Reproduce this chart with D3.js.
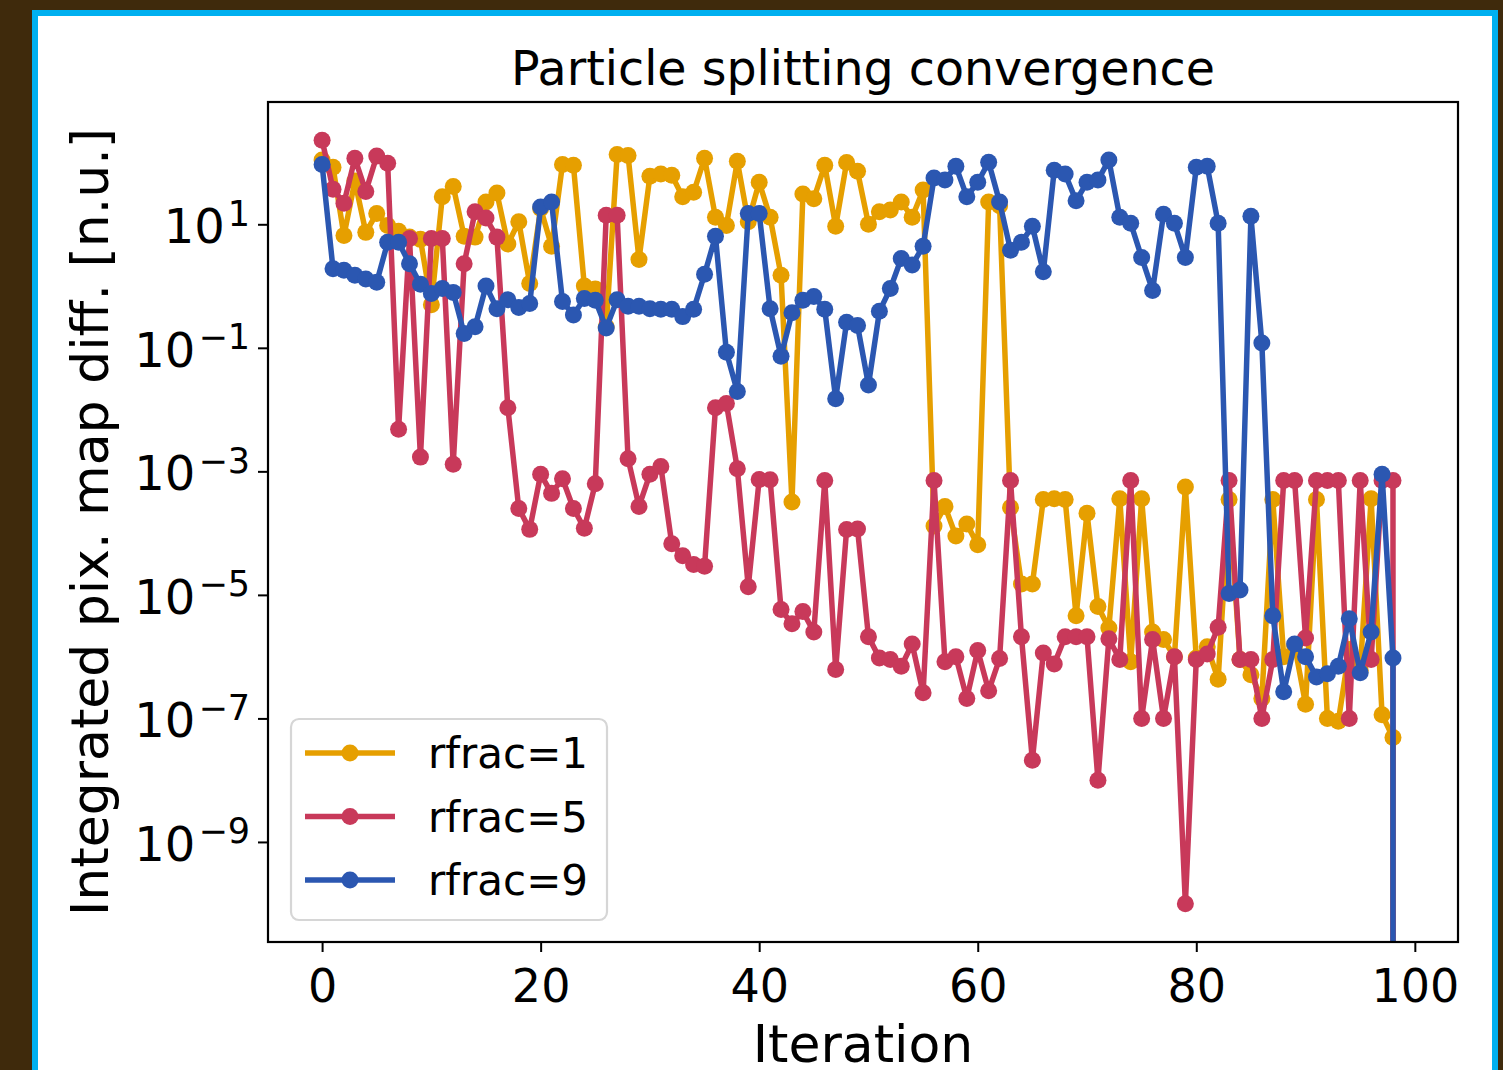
<!DOCTYPE html>
<html lang="en">
<head>
    <meta charset="UTF-8">
    <title>Particle splitting convergence</title>
    <script src="https://d3js.org/d3.v7.min.js"></script>
    <style>
        body {
            margin: 0;
            background: #3f2a0c;
        }
        text {
            font-family: 'DejaVu Sans', sans-serif;
        }
        .axis text {
            font-size: 46px;
            fill: #000;
        }
        .axis line {
            stroke: #000;
            stroke-width: 2px;
        }
    </style>
</head>
<body>
    <svg id="chart" width="1503" height="1070"></svg>

    <script>
        // Data (iterations 0..99, last value 0 -> clipped off the log axis)
        const iterations = d3.range(0, 100);

        const rfrac1 = [
            110, 84, 6.6, 50, 7.4, 15, 9.6, 7.7, 6.2, 5.7,
            0.5, 28, 41, 6.4, 6.2, 23, 32, 4.8, 11, 1.1,
            18, 4.4, 93, 90, 1.0, 0.9, 0.22, 135, 130, 2.7,
            60, 65, 62, 28, 33, 117, 13, 9.6, 105, 11,
            48, 13, 1.5, 3.2e-4, 31, 26, 90, 9.3, 100, 72,
            10, 16, 17, 23, 13, 36, 1.3e-4, 2.7e-4, 9e-5, 1.4e-4,
            6.5e-5, 23, 20, 2.6e-4, 1.5e-5, 1.5e-5, 3.5e-4, 3.6e-4, 3.5e-4, 4.6e-6,
            2.1e-4, 6.5e-6, 2.9e-6, 3.6e-4, 8.3e-7, 3.6e-4, 2.5e-6, 1.9e-6, 1e-6, 5.6e-4,
            9.5e-7, 1.45e-6, 4.3e-7, 3.5e-4, 9e-7, 5.1e-7, 2.1e-7, 3.5e-4, 1e-6, 1.5e-6,
            1.7e-7, 3.5e-4, 1e-7, 9e-8, 1.3e-6, 6e-7, 3.6e-4, 1.15e-7, 4.9e-8, 0
        ];

        const rfrac5 = [
            230, 37, 22, 117, 34, 127, 97, 4.8e-3, 5.9, 1.7e-3,
            5.9, 5.9, 1.3e-3, 2.3, 16, 12.6, 6.2, 1.07e-2, 2.5e-4, 1.15e-4,
            9e-4, 4.4e-4, 7.6e-4, 2.5e-4, 1.2e-4, 6.3e-4, 14, 14, 1.6e-3, 2.7e-4,
            9e-4, 1.2e-3, 6.7e-5, 4.3e-5, 3.1e-5, 2.9e-5, 1.07e-2, 1.25e-2, 1.1e-3, 1.35e-5,
            7.4e-4, 7.3e-4, 5.8e-6, 3.4e-6, 5.4e-6, 2.5e-6, 7.1e-4, 6.2e-7, 1.14e-4, 1.17e-4,
            2.1e-6, 9.5e-7, 9e-7, 7e-7, 1.6e-6, 2.6e-7, 7.1e-4, 8.3e-7, 1e-6, 2.1e-7,
            1.26e-6, 2.8e-7, 9.3e-7, 7.1e-4, 2.1e-6, 2.1e-8, 1.15e-6, 7.6e-7, 2.1e-6, 2.1e-6,
            2.1e-6, 1e-8, 1.95e-6, 9e-7, 7.1e-4, 1e-7, 1.9e-6, 1e-7, 1e-6, 1e-10,
            9e-7, 1.1e-6, 3e-6, 7.1e-4, 9e-7, 9e-7, 1e-7, 9e-7, 7.1e-4, 7.1e-4,
            2e-6, 7.1e-4, 7.1e-4, 7.1e-4, 1e-7, 7.1e-4, 9e-7, 7.1e-4, 7.1e-4, 0
        ];

        const rfrac9 = [
            93, 1.9, 1.8, 1.5, 1.3, 1.15, 5.1, 5.1, 2.3, 1.07,
            0.76, 0.91, 0.79, 0.17, 0.22, 1.0, 0.43, 0.6, 0.45, 0.52,
            19, 23, 0.56, 0.34, 0.63, 0.59, 0.21, 0.6, 0.47, 0.47,
            0.43, 0.42, 0.42, 0.32, 0.42, 1.55, 6.4, 0.085, 0.0196, 15,
            15, 0.43, 0.073, 0.37, 0.59, 0.68, 0.42, 0.015, 0.26, 0.23,
            0.025, 0.39, 0.91, 2.8, 2.2, 4.4, 56, 52, 87, 28,
            48, 101, 23, 3.8, 5.1, 9.3, 1.7, 75, 65, 24,
            48, 52, 110, 13, 10.4, 2.9, 0.85, 14.5, 10.4, 2.9,
            84, 87, 10.4, 1.05e-5, 1.2e-5, 13.5, 0.12, 4.6e-6, 2.7e-7, 1.6e-6,
            1e-6, 4.7e-7, 5.3e-7, 7e-7, 4.1e-6, 5.5e-7, 2.5e-6, 9e-4, 9.5e-7, 0
        ];

        const seriesNames = ["rfrac=1", "rfrac=5", "rfrac=9"];
        const seriesColors = ["#e69f00", "#c8395a", "#2b57b1"];
        const xTicks = [0, 20, 40, 60, 80, 100];
        const yTickExps = [1, -1, -3, -5, -7, -9];

        const series = [rfrac1, rfrac5, rfrac9].map((vals, k) => ({
            name: seriesNames[k],
            color: seriesColors[k],
            values: vals.map((v, i) => ({ x: iterations[i], y: v }))
        }));

        const svg = d3.select("#chart");

        // page frame: brown backdrop, blue border, white canvas
        svg.append("rect").attr("x", 0).attr("y", 0).attr("width", 1503).attr("height", 1070).attr("fill", "#3f2a0c");
        svg.append("rect").attr("x", 32).attr("y", 10).attr("width", 1466).attr("height", 1070).attr("fill", "#00b0f0");
        svg.append("rect").attr("x", 38).attr("y", 16).attr("width", 1454).attr("height", 1070).attr("fill", "#ffffff");

        const plot = { left: 268, right: 1458, top: 102, bottom: 942 };

        const x = d3.scaleLinear()
            .domain([-4.95, 103.95])
            .range([plot.left, plot.right]);

        const y = d3.scaleLog()
            .domain([Math.pow(10, -10.62), Math.pow(10, 2.98)])
            .range([plot.bottom, plot.top]);

        // zero values sit far below the axis (clipped), like matplotlib's log clipping
        const yPos = v => v > 0 ? y(v) : plot.bottom + 1e5;

        svg.append("clipPath").attr("id", "clip")
            .append("rect")
            .attr("x", plot.left).attr("y", plot.top)
            .attr("width", plot.right - plot.left).attr("height", plot.bottom - plot.top);

        // x axis
        const xAxis = svg.append("g")
            .attr("class", "axis")
            .attr("transform", `translate(0,${plot.bottom})`)
            .call(d3.axisBottom(x).tickValues(xTicks).tickSize(10).tickPadding(17));
        xAxis.select(".domain").remove();

        // y axis with 10^n labels
        const yAxis = svg.append("g")
            .attr("class", "axis")
            .attr("transform", `translate(${plot.left},0)`)
            .call(d3.axisLeft(y)
                .tickValues(yTickExps.map(e => Math.pow(10, e)))
                .tickFormat(() => "")
                .tickSize(10).tickPadding(8));
        yAxis.select(".domain").remove();
        yAxis.selectAll(".tick text")
            .attr("font-size", "48px")
            .style("font-size", "48px")
            .each(function(d) {
                const e = Math.round(Math.log10(d));
                const t = d3.select(this).attr("dy", "0.38em");
                t.append("tspan").text("10");
                t.append("tspan")
                    .attr("dx", 3)
                    .attr("dy", "-0.5em")
                    .style("font-size", "35px")
                    .text(e < 0 ? "\u2212" + Math.abs(e) : String(e));
            });

        // lines and markers
        const line = d3.line()
            .x(d => x(d.x))
            .y(d => yPos(d.y));

        const marks = svg.append("g").attr("clip-path", "url(#clip)");

        series.forEach(s => {
            const g = marks.append("g");
            g.append("path")
                .datum(s.values)
                .attr("fill", "none")
                .attr("stroke", s.color)
                .attr("stroke-width", 5.5)
                .attr("stroke-linejoin", "round")
                .attr("d", line);
            g.selectAll("circle")
                .data(s.values.filter(d => d.y > 0))
                .join("circle")
                .attr("cx", d => x(d.x))
                .attr("cy", d => y(d.y))
                .attr("r", 8.5)
                .attr("fill", s.color);
        });

        // axes frame
        svg.append("rect")
            .attr("x", plot.left).attr("y", plot.top)
            .attr("width", plot.right - plot.left).attr("height", plot.bottom - plot.top)
            .attr("fill", "none").attr("stroke", "#000").attr("stroke-width", 2.2);

        // legend
        const legend = svg.append("g");
        legend.append("rect")
            .attr("x", 291).attr("y", 719).attr("width", 316).attr("height", 201)
            .attr("rx", 8)
            .attr("fill", "#fff").attr("fill-opacity", 0.8)
            .attr("stroke", "#d6d6d6").attr("stroke-width", 2.2);
        series.forEach((s, k) => {
            const ly = 753 + k * 63.5;
            legend.append("line")
                .attr("x1", 305).attr("x2", 395).attr("y1", ly).attr("y2", ly)
                .attr("stroke", s.color).attr("stroke-width", 5.5);
            legend.append("circle")
                .attr("cx", 350).attr("cy", ly).attr("r", 8.5).attr("fill", s.color);
            legend.append("text")
                .attr("x", 428).attr("y", ly).attr("dy", "0.36em")
                .attr("font-size", 42)
                .text(s.name);
        });

        // titles
        svg.append("text")
            .attr("x", (plot.left + plot.right) / 2).attr("y", 85)
            .attr("text-anchor", "middle").attr("font-size", 47.5)
            .text("Particle splitting convergence");

        svg.append("text")
            .attr("x", (plot.left + plot.right) / 2).attr("y", 1062)
            .attr("text-anchor", "middle").attr("font-size", 52)
            .text("Iteration");

        svg.append("text")
            .attr("transform", `translate(108,${(plot.top + plot.bottom) / 2}) rotate(-90)`)
            .attr("text-anchor", "middle").attr("font-size", 52)
            .text("Integrated pix. map diff. [n.u.]");
    </script>
</body>
</html>
